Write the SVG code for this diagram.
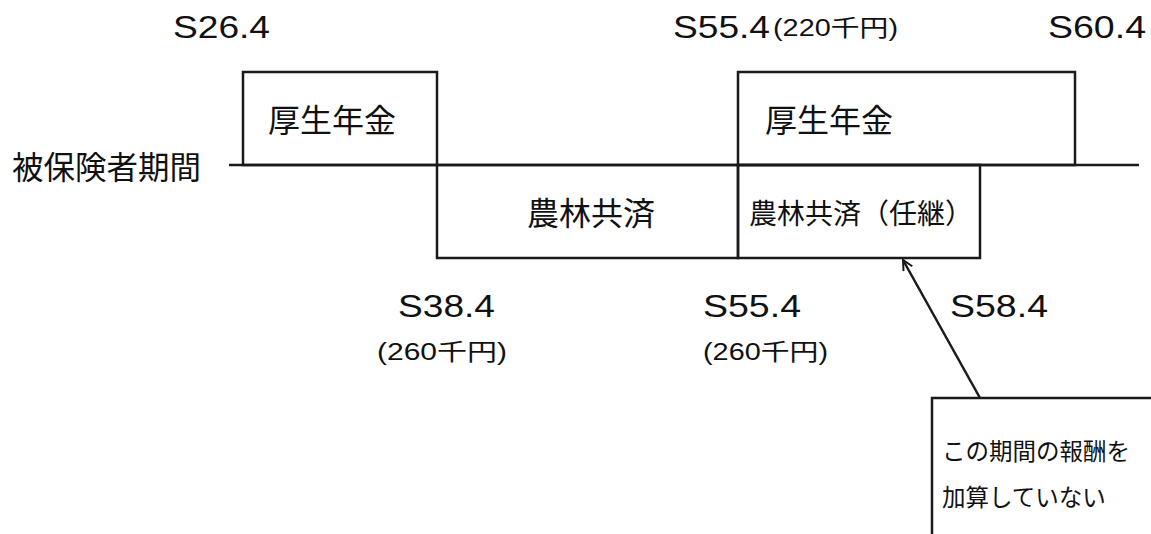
<svg xmlns="http://www.w3.org/2000/svg" width="1151" height="534" viewBox="0 0 1151 534">
<defs>
<style>
.ln{fill:none;stroke:#1a1a1a;stroke-width:2.5}
.jp{font-family:"Noto Sans CJK JP",sans-serif;fill:#111}
.lat{font-family:"Liberation Sans","Noto Sans CJK JP",sans-serif;fill:#111}
.big{font-size:32px}
.sm{font-size:23px}
</style>
<marker id="ah" viewBox="0 0 12 12" refX="11" refY="6" markerWidth="12" markerHeight="12" markerUnits="userSpaceOnUse" orient="auto">
<path d="M1,1 L11,6 L1,11" fill="none" stroke="#1a1a1a" stroke-width="2"/>
</marker>
</defs>
<rect width="1151" height="534" fill="#fff"/>
<g id="labels">
<text class="lat big" x="173" y="38" textLength="97" lengthAdjust="spacingAndGlyphs">S26.4</text>
<text class="lat big" x="673" y="38" textLength="97" lengthAdjust="spacingAndGlyphs">S55.4</text>
<text class="lat sm" x="773" y="36" textLength="125" lengthAdjust="spacingAndGlyphs">(220千円)</text>
<text class="lat big" x="1048" y="38" textLength="98" lengthAdjust="spacingAndGlyphs">S60.4</text>
<text class="jp" x="12" y="179" font-size="31.5">被保険者期間</text>
<text class="lat big" x="398" y="317" textLength="97" lengthAdjust="spacingAndGlyphs">S38.4</text>
<text class="lat sm" x="377" y="360" textLength="130" lengthAdjust="spacingAndGlyphs">(260千円)</text>
<text class="lat big" x="703" y="317" textLength="98" lengthAdjust="spacingAndGlyphs">S55.4</text>
<text class="lat sm" x="703" y="360" textLength="125" lengthAdjust="spacingAndGlyphs">(260千円)</text>
<text class="lat big" x="950" y="317" textLength="98" lengthAdjust="spacingAndGlyphs">S58.4</text>
</g>
<g id="connectors">
<line class="ln" x1="229" y1="165" x2="1139" y2="165"/>
<line class="ln" x1="980" y1="398" x2="903" y2="260" marker-end="url(#ah)"/>
</g>
<g id="kosei1">
<rect class="ln" x="243" y="72" width="194" height="93"/>
<text class="jp" x="268" y="132" font-size="32">厚生年金</text>
</g>
<g id="norin1">
<rect class="ln" x="437" y="165" width="301" height="93"/>
<text class="jp" x="527" y="225" font-size="32">農林共済</text>
</g>
<g id="kosei2">
<rect class="ln" x="738" y="72" width="337" height="93"/>
<text class="jp" x="765" y="132" font-size="32">厚生年金</text>
</g>
<g id="norin2">
<rect class="ln" x="738" y="165" width="242" height="93"/>
<text class="jp" x="749" y="224" font-size="28">農林共済（任継）</text>
</g>
<g id="callout">
<rect class="ln" x="932" y="398" width="260" height="180"/>
<text class="jp" x="942" y="460" font-size="23.5">この期間の報酬を</text>
<text class="jp" x="942" y="506" font-size="23.5">加算していない</text>
</g>
</svg>
